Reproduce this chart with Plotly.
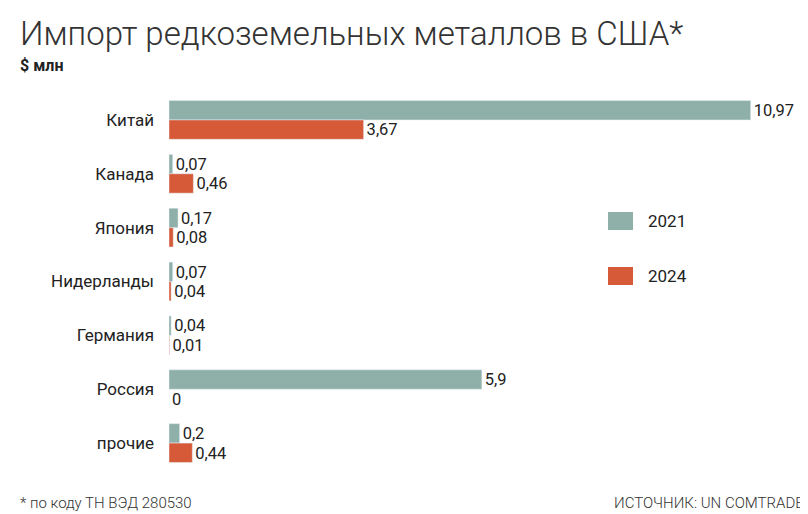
import plotly.graph_objects as go

countries = ["Китай", "Канада", "Япония", "Нидерланды", "Германия", "Россия", "прочие"]
v2021 = [10.97, 0.07, 0.17, 0.07, 0.04, 5.9, 0.2]
v2024 = [3.67, 0.46, 0.08, 0.04, 0.01, 0, 0.44]
lab2021 = ["10,97", "0,07", "0,17", "0,07", "0,04", "5,9", "0,2"]
lab2024 = ["3,67", "0,46", "0,08", "0,04", "0,01", "0", "0,44"]

c21 = "#8fb0a8"
c24 = "#d65a38"
font = "Roboto"

fig = go.Figure()
fig.add_trace(go.Bar(y=countries, x=v2021, orientation="h", marker_color=c21, name="2021",
                     text=lab2021, textposition="outside", cliponaxis=False,
                     textfont=dict(size=17, color="#222")))
fig.add_trace(go.Bar(y=countries, x=v2024, orientation="h", marker_color=c24, name="2024",
                     text=lab2024, textposition="outside", cliponaxis=False,
                     textfont=dict(size=17, color="#222")))

W, H, L, R, T, B = 808, 514, 161, 16, 85, 52
pw, ph = W - L - R, H - T - B

def px(x):
    return (x - L) / pw

def py(y):
    return (H - B - y) / ph

fig.update_layout(
    width=W, height=H, barmode="group", bargap=0.28, bargroupgap=0.0,
    margin=dict(l=L, r=R, t=T, b=B, autoexpand=False),
    plot_bgcolor="white", paper_bgcolor="white", showlegend=False,
    font=dict(family=font, color="#222"),
    xaxis=dict(range=[0, 11.9], visible=False, automargin=False),
    yaxis=dict(autorange="reversed", showline=False, showgrid=False, ticks="", automargin=False,
               tickfont=dict(size=17, color="#222"), ticklabelstandoff=14),
)

# legend drawn by hand
for name, col, yc in [("2021", c21, 213), ("2024", c24, 268)]:
    fig.add_shape(type="rect", xref="paper", yref="paper", x0=px(600), x1=px(625),
                  y0=py(yc + 9), y1=py(yc - 9), fillcolor=col, line_width=0)
    fig.add_annotation(xref="paper", yref="paper", x=px(638), y=py(yc), text=name, showarrow=False,
                       xanchor="left", yanchor="middle", font=dict(size=17, color="#222"))

fig.add_annotation(xref="paper", yref="paper", x=px(10), y=py(26), xanchor="left", yanchor="middle",
                   text="Импорт редкоземельных металлов в США*", showarrow=False,
                   font=dict(size=33, family="Roboto Light", color="#333"))
fig.add_annotation(xref="paper", yref="paper", x=px(10), y=py(57), xanchor="left", yanchor="middle",
                   text="<b>$ млн</b>", showarrow=False, font=dict(size=16, color="#222"))
fig.add_annotation(xref="paper", yref="paper", x=px(10), y=py(495), xanchor="left", yanchor="middle",
                   text="* по коду ТН ВЭД 280530", showarrow=False,
                   font=dict(size=15, family="Roboto Light", color="#333"))
fig.add_annotation(xref="paper", yref="paper", x=px(798), y=py(495), xanchor="right", yanchor="middle",
                   text="ИСТОЧНИК: UN COMTRADE", showarrow=False,
                   font=dict(size=15, family="Roboto Light", color="#333"))

fig.write_html("out.html")
